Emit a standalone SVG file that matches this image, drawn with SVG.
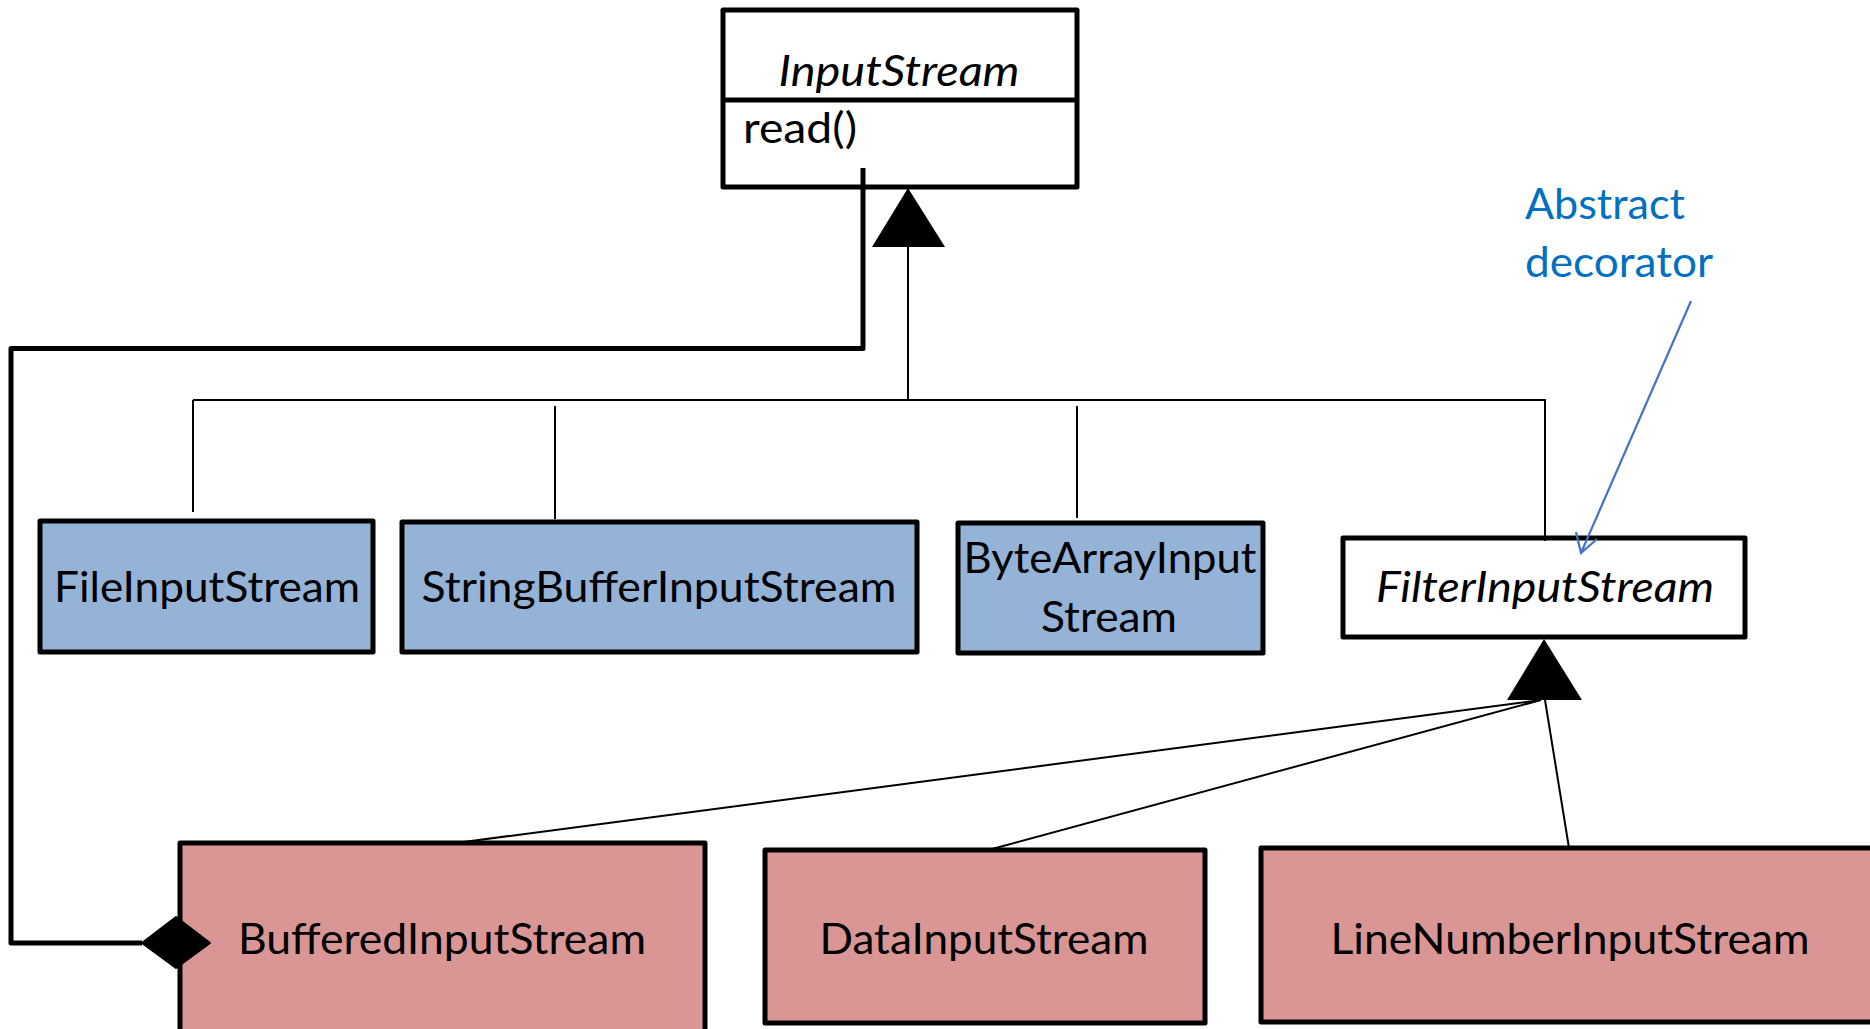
<svg xmlns="http://www.w3.org/2000/svg" width="1870" height="1029" viewBox="0 0 1870 1029">
<style>
.box{stroke:#000;stroke-width:5;stroke-linejoin:round}
.blue{fill:#95B3D7}.pink{fill:#D99694}.white{fill:#fff}
.t{font-family:Lato,"Open Sans","Liberation Sans",sans-serif;font-size:43px;fill:#000}
.c{text-anchor:middle}
.i{font-style:italic}
.thin{fill:none;stroke:#000;stroke-width:2}
.thick{fill:none;stroke:#000;stroke-width:5;stroke-linejoin:round}
.note{font-family:Lato,"Open Sans","Liberation Sans",sans-serif;font-size:43px;fill:#0070C0}
</style>
<rect width="1870" height="1029" fill="#fff"/>
<g id="InputStream">
<rect class="box white" x="723" y="10" width="354" height="177"/>
<line x1="723" y1="100" x2="1077" y2="100" stroke="#000" stroke-width="5"/>
<text class="t c i" x="899" y="86" textLength="241" lengthAdjust="spacingAndGlyphs">InputStream</text>
<text class="t" x="743" y="143" textLength="114" lengthAdjust="spacingAndGlyphs">read()</text>
</g>
<g id="FileInputStream">
<rect class="box blue" x="40" y="521" width="333" height="131"/>
<text class="t c" x="207" y="602" textLength="306" lengthAdjust="spacingAndGlyphs">FileInputStream</text>
</g>
<g id="StringBufferInputStream">
<rect class="box blue" x="402" y="522" width="515" height="130"/>
<text class="t c" x="659" y="602" textLength="475" lengthAdjust="spacingAndGlyphs">StringBufferInputStream</text>
</g>
<g id="ByteArrayInputStream">
<rect class="box blue" x="958" y="523" width="305" height="130"/>
<text class="t c" x="1110" y="573" textLength="293" lengthAdjust="spacingAndGlyphs">ByteArrayInput</text>
<text class="t c" x="1109" y="632" textLength="136" lengthAdjust="spacingAndGlyphs">Stream</text>
</g>
<g id="FilterInputStream">
<rect class="box white" x="1343" y="538" width="402" height="99"/>
<text class="t c i" x="1545" y="602" textLength="338" lengthAdjust="spacingAndGlyphs">FilterInputStream</text>
</g>
<g id="BufferedInputStream">
<rect class="box pink" x="180" y="843" width="525" height="200"/>
<text class="t c" x="442" y="954" textLength="408" lengthAdjust="spacingAndGlyphs">BufferedInputStream</text>
</g>
<g id="DataInputStream">
<rect class="box pink" x="765" y="850" width="440" height="173"/>
<text class="t c" x="984" y="954" textLength="329" lengthAdjust="spacingAndGlyphs">DataInputStream</text>
</g>
<g id="LineNumberInputStream">
<rect class="box pink" x="1261" y="848" width="620" height="174"/>
<text class="t c" x="1570" y="954" textLength="479" lengthAdjust="spacingAndGlyphs">LineNumberInputStream</text>
</g>
<g id="note">
<text class="note" x="1525" y="219" textLength="160" lengthAdjust="spacingAndGlyphs">Abstract</text>
<text class="note" x="1525" y="277" textLength="188" lengthAdjust="spacingAndGlyphs">decorator</text>
</g>
<g id="connectors">
<path class="thin" d="M908 247V400M193 400H1545V541M193 400V512M555 406V519M1077 406V518"/>
<polygon points="908,188 872,247 945,247" fill="#000"/>
<path class="thin" d="M1541 700L456 843M1541 700L992 849M1545 700L1569 848"/>
<polygon points="1544,639 1507,700 1582,700" fill="#000"/>
<path class="thick" d="M863 168V348.5H11V943H142"/>
<polygon points="142,943 176,917 210,943 176,968" fill="#000" stroke="#000" stroke-width="2" stroke-linejoin="round"/>
<path d="M1691 301L1581 553M1576 532L1581 553L1597 539" fill="none" stroke="#4472C4" stroke-width="2.2"/>
</g>
</svg>
